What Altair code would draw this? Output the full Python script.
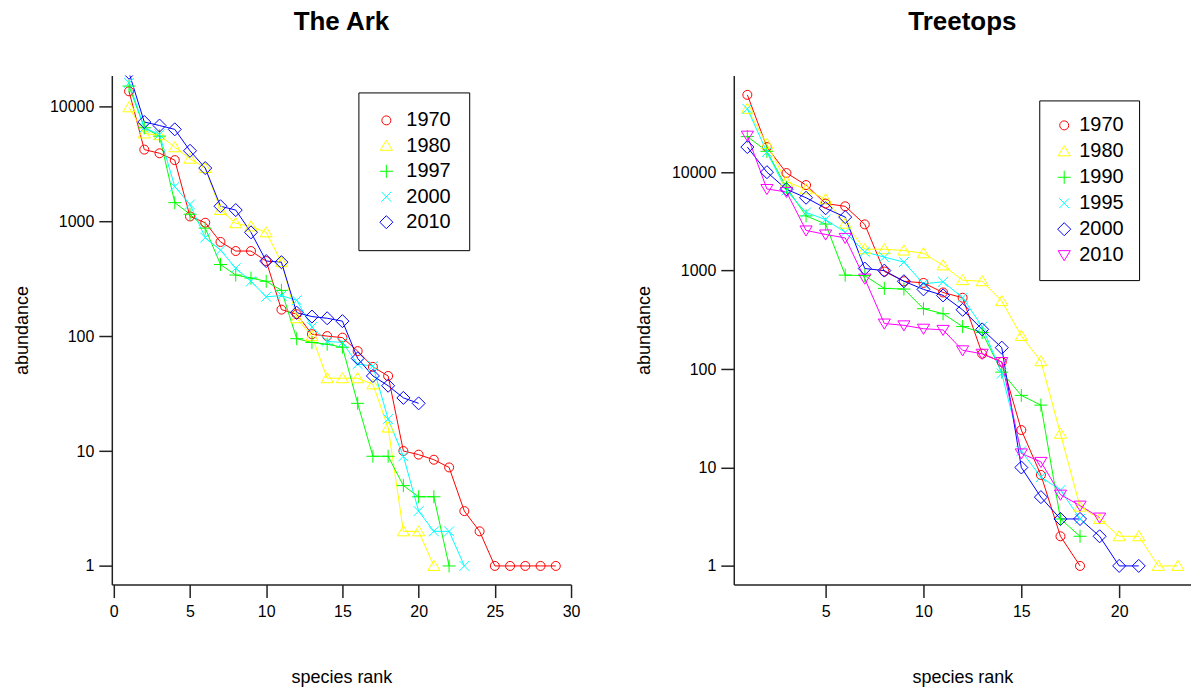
import altair as alt
import pandas as pd

# ---------------- data ----------------
ark_years = ["1970", "1980", "1997", "2000", "2010"]
ark_colors = ["#FF0000", "#FFFF00", "#00FF00", "#00FFFF", "#0000FF"]
ark_1970 = [13500, 4200, 3900, 3400, 1100, 970, 660, 550, 550, 450, 170, 155, 104, 100, 97, 74, 54, 45, 10, 9.3, 8.4, 7.2, 3, 2, 1, 1, 1, 1, 1]
ark_1980 = [9800, 5800, 5600, 4400, 3500, 2900, 1250, 960, 900, 800, 440, 143, 100, 43, 43, 43, 38, 16, 2, 2, 1]
ark_1997 = [15000, 6500, 5500, 1450, 1150, 870, 420, 340, 320, 300, 250, 95, 88, 85, 80, 26, 9, 9, 5, 4, 4, 1]
ark_2000 = [16000, 6500, 5700, 2000, 1400, 720, 560, 390, 300, 220, 225, 205, 120, 90, 88, 57, 55, 19, 9, 3, 2, 2, 1]
ark_2010 = [19600, 7300, 6800, 6300, 4100, 2900, 1350, 1250, 800, 450, 440, 160, 148, 143, 135, 64, 45, 37, 29, 26]

tree_years = ["1970", "1980", "1990", "1995", "2000", "2010"]
tree_colors = ["#FF0000", "#FFFF00", "#00FF00", "#00FFFF", "#0000FF", "#FF00FF"]
tree_1970 = [61000, 18000, 9800, 7400, 4800, 4500, 2950, 980, 780, 750, 600, 530, 143, 118, 24, 8.4, 2, 1]
tree_1980 = [44000, 19300, 8000, 6700, 5300, 3000, 1650, 1650, 1600, 1500, 1130, 800, 780, 490, 217, 120, 22, 4, 3, 2, 2, 1, 1]
tree_1990 = [23000, 16300, 7000, 3600, 2970, 900, 890, 660, 650, 410, 365, 270, 235, 93, 54, 43, 3, 2]
tree_1995 = [44000, 16000, 6500, 3900, 3300, 2450, 1550, 1370, 1220, 735, 770, 530, 270, 90, 14.7, 8, 5.9, 3]
tree_2000 = [18000, 10000, 6700, 5500, 4300, 3500, 1050, 1000, 780, 645, 560, 400, 253, 165, 10, 5, 3, 3, 2, 1, 1]
tree_2010 = [23500, 6750, 6300, 2560, 2330, 2150, 830, 290, 278, 257, 250, 155, 143, 118, 13.9, 11.4, 5.3, 4.1, 3.1]

ark_x_ticks = [0, 5, 10, 15, 20, 25, 30]
tree_x_ticks = [5, 10, 15, 20]
y_ticks = [1, 10, 100, 1000, 10000]

# marker shapes (open circle, triangle up, plus, x, diamond, triangle down)
CIRCLE = "circle"
TRI_UP = "M0,-1.25L1.35,1L-1.35,1Z"
PLUS = "M-1.45,0H1.45M0,-1.45V1.45"
CROSS = "M-1.1,-1.1L1.1,1.1M-1.1,1.1L1.1,-1.1"
DIAMOND = "M0,-1.45L1.45,0L0,1.45L-1.45,0Z"
TRI_DOWN = "M0,1.25L1.35,-1L-1.35,-1Z"
ark_shapes = [CIRCLE, TRI_UP, PLUS, CROSS, DIAMOND]
tree_shapes = [CIRCLE, TRI_UP, PLUS, CROSS, DIAMOND, TRI_DOWN]


def long_table(years, series):
    rows = []
    for yr, vals in zip(years, series):
        for i, v in enumerate(vals):
            rows.append({"year": yr, "series": yr, "rank": i + 1, "abundance": v})
    return pd.DataFrame(rows)


ark_df = long_table(ark_years, [ark_1970, ark_1980, ark_1997, ark_2000, ark_2010])
tree_df = long_table(tree_years, [tree_1970, tree_1980, tree_1990, tree_1995, tree_2000, tree_2010])

FONT = "Liberation Sans"


def panel(df, years, colors, shapes, xdom, xticks, ydom, width, title, lx, ly, lpad, loff, rowpad):
    x = alt.X("rank:Q",
              scale=alt.Scale(domain=xdom, nice=False, zero=False),
              axis=alt.Axis(values=xticks, title="species rank", labelFlush=False,
                            tickSize=13, labelPadding=6, titlePadding=49))
    y = alt.Y("abundance:Q",
              scale=alt.Scale(type="log", domain=ydom, nice=False),
              axis=alt.Axis(values=y_ticks, format="d", title="abundance",
                            tickSize=13, labelPadding=5, titlePadding=18))
    base = alt.Chart(df)
    lines = base.mark_line(strokeWidth=1, clip=True).encode(
        x=x, y=y,
        stroke=alt.Stroke("series:N", scale=alt.Scale(range=colors), legend=None),
        detail="series:N",
        order="rank:Q",
    )
    leg = alt.Legend(title=None, orient="none", legendX=lx, legendY=ly, padding=lpad,
                     rowPadding=rowpad, labelFontSize=20, labelFont=FONT, labelOffset=loff,
                     symbolSize=81, symbolStrokeWidth=1, strokeColor="black",
                     labelColor="black")
    points = base.mark_point(filled=False, strokeWidth=1, size=81, clip=True, opacity=1).encode(
        x=x, y=y,
        color=alt.Color("year:N", scale=alt.Scale(domain=years, range=colors), legend=leg),
        shape=alt.Shape("year:N", scale=alt.Scale(domain=years, range=shapes), legend=leg),
    )
    return alt.layer(lines, points).properties(
        width=width, height=510,
        title=alt.TitleParams(title, fontSize=26, fontWeight="bold", font=FONT,
                              anchor="middle", frame="group", baseline="alphabetic", offset=20),
    )


left = panel(ark_df, ark_years, ark_colors, ark_shapes, [-0.13, 30.0], ark_x_ticks,
             [0.688, 18550], 460, "The Ark", 247, 17, 18, 10, 5.5)
right = panel(tree_df, tree_years, tree_colors, tree_shapes, [0.306, 23.67], tree_x_ticks,
              [0.646, 96100], 458, "Treetops", 306, 25, 15, 5, 6)

chart = alt.hconcat(left, right, spacing=55).resolve_scale(
    color="independent", shape="independent", stroke="independent"
).properties(
    padding={"left": 13, "top": 8, "right": 0, "bottom": 4}
).configure_view(stroke=None).configure_axis(
    grid=False, domainColor="#222222", tickColor="#222222", domainWidth=1.5, tickWidth=1.5,
    labelColor="black", titleColor="black", labelFont=FONT, titleFont=FONT,
    labelFontSize=16, titleFontSize=18, titleFontWeight="normal",
)

chart.save("out.html", embed_options={"renderer": "svg", "actions": False})
